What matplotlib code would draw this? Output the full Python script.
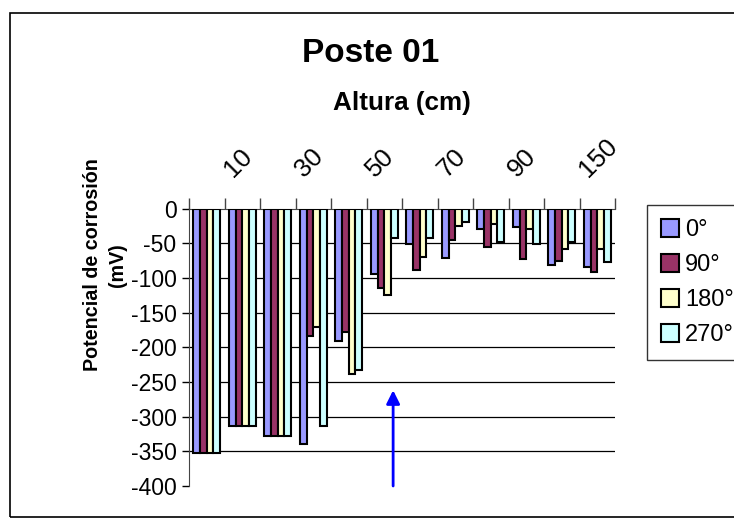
import numpy as np
import matplotlib
matplotlib.use('Agg')
import matplotlib.pyplot as plt
from matplotlib.patches import Rectangle
from matplotlib.transforms import ScaledTranslation

plt.rcParams['font.family'] = ['Liberation Sans', 'DejaVu Sans']
plt.rcParams['axes.unicode_minus'] = False

# alturas (cm) -- solo se rotulan las impares
alturas = [0, 10, 20, 30, 40, 50, 60, 70, 80, 90, 120, 150]
angulos = ['0°', '90°', '180°', '270°']

p0 = [-352, -313, -328, -339, -191, -94, -51, -71, -30, -26, -81, -84]
p90 = [-352, -313, -328, -184, -178, -115, -88, -46, -55, -73, -75, -92]
p180 = [-352, -313, -328, -171, -238, -124, -70, -25, -22, -30, -58, -59]
p270 = [-352, -313, -328, -313, -233, -43, -42, -20, -48, -51, -48, -77]
series = [p0, p90, p180, p270]

colores = ['#9999FF', '#993366', '#FFFFCC', '#CCFFFF']

# flecha azul
flecha_x = 5.25
flecha_y0 = -400
flecha_y1 = -262

fig = plt.figure(figsize=(7.34, 5.2), dpi=100)
ax = fig.add_axes([189/734, 1-486/520, (615-189)/734, (486-208.5)/520])

x = np.arange(len(alturas))
w = 0.19
for k, (vals, c) in enumerate(zip(series, colores)):
    ax.bar(x + (k - 1.5)*w, vals, w, color=c, edgecolor='black', linewidth=1.5,
           label=angulos[k], zorder=3)

yt = np.arange(-400, 1, 50)
ax.set_ylim(-400, 0)
ax.set_xlim(-0.5, len(alturas) - 0.5)
ax.set_yticks(yt)
ax.tick_params(axis='y', labelsize=16.5, length=5, width=1, direction='out', pad=4)
for yv in yt[1:-1]:
    ax.axhline(yv, color='black', linewidth=0.9, zorder=0)

# eje de categorias arriba, marcas en los limites
ax.xaxis.tick_top()
ax.set_xticks(np.arange(len(alturas) + 1) - 0.5)
ax.set_xticklabels([])
ax.tick_params(axis='x', length=8, width=1, direction='out', color='#444444')

for s in ['right', 'bottom']:
    ax.spines[s].set_visible(False)
ax.spines['top'].set_color('#444444')
ax.spines['left'].set_color('#444444')

off = ScaledTranslation(-6.5/72, 22/72, fig.dpi_scale_trans)
for i, h in enumerate(alturas):
    if i % 2 == 1:
        ax.text(i, 1, str(h), transform=ax.get_xaxis_transform() + off,
                rotation=45, rotation_mode='anchor', ha='left', va='baseline',
                fontsize=18.5)

ax.annotate('', xy=(flecha_x, flecha_y1), xytext=(flecha_x, flecha_y0),
            arrowprops=dict(arrowstyle='-|>', color='#0000FF', lw=2,
                            mutation_scale=20, shrinkA=0, shrinkB=0),
            annotation_clip=False, zorder=5)

fig.text(371/734, 1-54/520, 'Poste 01', fontsize=24, fontweight='bold',
         ha='center', va='center')
fig.text(402/734, 1-103/520, 'Altura (cm)', fontsize=18.8, fontweight='bold',
         ha='center', va='center')
fig.text(105/734, 1-265/520, 'Potencial de corrosión\n(mV)', fontsize=14.2,
         fontweight='bold', ha='center', va='center', rotation=90,
         linespacing=1.35)

leg = ax.legend(loc='upper left', bbox_to_anchor=(647/734, 1-205/520),
                bbox_transform=fig.transFigure, borderaxespad=0, fontsize=17,
                frameon=True, fancybox=False, handlelength=0.75, handleheight=0.75,
                handletextpad=0.25, labelspacing=0.55, borderpad=0.6)
leg.get_frame().set_edgecolor('black')
leg.get_frame().set_linewidth(1)

fig.patches.append(Rectangle((10/734, 3/520), 1.0, 1-16/520, transform=fig.transFigure,
                             fill=False, edgecolor='black', linewidth=1.2))

fig.savefig('out.png', dpi=100)
